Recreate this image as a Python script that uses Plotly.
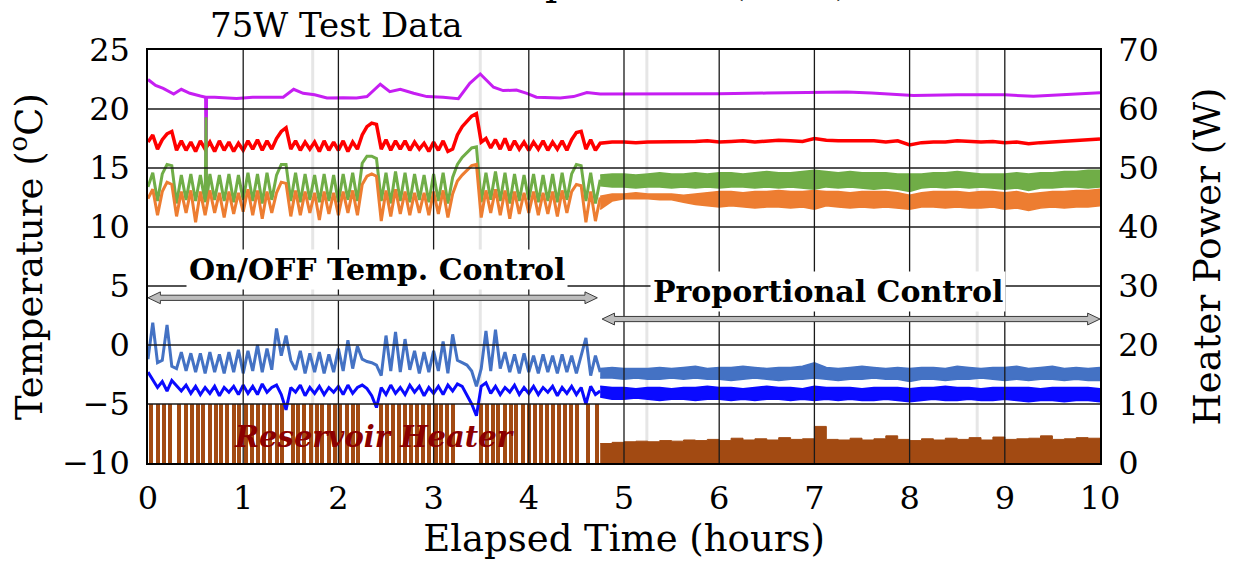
import plotly.graph_objects as go

# ---------------- data ----------------
# on/off control period: samples every 0.05 h from 0 to 4.75 h
t_onoff = [round(0.05 * i, 2) for i in range(96)]
# proportional control period: samples every 0.125 h from 4.75 to 10 h
t_prop = [round(4.75 + 0.125 * k, 3) for k in range(43)]

purple_t = [0.0, 0.08, 0.16, 0.27, 0.35, 0.44, 0.55, 0.605, 0.61, 0.615,
            0.7, 0.93, 1.1, 1.32, 1.42, 1.53, 1.63, 1.75, 1.88, 2.05,
            2.19, 2.30, 2.44, 2.54, 2.65, 2.79, 2.93, 3.10, 3.26, 3.38,
            3.49, 3.63, 3.73, 3.87, 3.98, 4.08, 4.33, 4.47, 4.61, 4.75,
            5.2, 5.6, 6.0, 6.5, 7.0, 7.34, 7.6, 8.04, 8.5, 9.0,
            9.3, 9.6, 10.0]
purple_v = [22.5, 22.0, 21.75, 21.27, 21.67, 21.33, 21.1, 21.0, 12.3, 21.0,
            21.0, 20.9, 21.0, 21.0, 21.0, 21.67, 21.33, 21.2, 20.93, 20.95,
            20.93, 21.05, 22.1, 21.47, 21.67, 21.33, 21.05, 21.0, 20.87, 22.18,
            22.97, 21.84, 21.56, 21.6, 21.33, 21.0, 20.93, 21.05, 21.4, 21.27,
            21.27, 21.3, 21.3, 21.35, 21.4, 21.45, 21.35, 21.15, 21.2, 21.2,
            21.07, 21.2, 21.37]

red_onoff = [17.2, 17.8, 16.6, 17.4, 17.9, 18.1, 16.5, 17.3, 16.5, 17.2,
             16.4, 17.3, 16.6, 17.2, 16.4, 17.3, 16.5, 17.2, 16.4, 17.1,
             16.5, 17.3, 16.6, 17.4, 16.5, 17.3, 16.6, 17.5, 18.1, 18.4,
             16.6, 17.3, 16.5, 17.2, 16.6, 17.2, 16.4, 17.3, 16.5, 17.2,
             16.5, 17.3, 16.4, 17.2, 16.6, 17.8, 18.5, 18.8, 18.7, 16.6,
             17.4, 16.5, 17.3, 16.6, 17.3, 16.5, 17.2, 16.6, 17.1, 16.4,
             17.2, 16.5, 17.3, 16.4, 16.6, 17.8, 18.5, 19.0, 19.4, 19.6,
             17.2, 17.5, 16.7, 17.4, 16.6, 17.5, 16.5, 17.3, 16.6, 17.2,
             16.5, 17.2, 16.6, 17.3, 16.5, 17.2, 16.6, 17.3, 16.5, 17.4,
             18.0, 18.1, 16.6, 17.4, 16.5, 17.1]
red_prop = [17.1, 17.2, 17.2, 17.15, 17.2, 17.2, 17.25, 17.2, 17.25, 17.3,
            17.2, 17.25, 17.3, 17.2, 17.3, 17.35, 17.3, 17.25, 17.5, 17.35,
            17.3, 17.3, 17.25, 17.3, 17.2, 17.3, 16.95, 17.15, 17.2, 17.2,
            17.3, 17.25, 17.2, 17.25, 17.15, 17.2, 17.05, 17.15, 17.2, 17.3,
            17.35, 17.4, 17.45]

green_onoff = [13.4, 14.6, 12.2, 14.5, 15.3, 15.2, 12.0, 14.4, 12.3, 14.5,
               12.2, 14.4, 12.1, 14.5, 12.3, 14.4, 12.2, 14.5, 12.1, 14.4,
               12.3, 14.6, 12.2, 14.5, 12.0, 14.6, 12.3, 14.4, 15.3, 15.3,
               12.2, 14.6, 12.1, 14.5, 12.3, 14.4, 12.1, 14.5, 12.2, 14.4,
               12.1, 14.5, 12.3, 14.6, 12.2, 15.4, 16.0, 16.0, 15.8, 12.2,
               14.6, 12.0, 14.7, 12.2, 14.6, 12.1, 14.5, 12.3, 14.4, 12.1,
               14.5, 12.2, 14.6, 12.0, 14.2, 15.3, 15.9, 16.3, 16.7, 16.8,
               12.1, 14.6, 12.3, 14.7, 12.2, 14.6, 12.0, 14.5, 12.2, 14.4,
               12.3, 14.5, 12.1, 14.4, 12.2, 14.5, 12.1, 14.6, 12.3, 14.5,
               15.3, 15.2, 12.2, 14.6, 12.0, 14.0]
green_glitch_t = [0.61, 0.615]
green_glitch_v = [19.3, 12.2]
green_prop_hi = [14.4, 14.5, 14.5, 14.4, 14.5, 14.6, 14.5, 14.5, 14.6, 14.5,
                 14.6, 14.6, 14.5, 14.6, 14.7, 14.6, 14.6, 14.7, 14.8, 14.7,
                 14.6, 14.7, 14.6, 14.6, 14.6, 14.5, 14.5, 14.5, 14.6, 14.6,
                 14.7, 14.6, 14.5, 14.5, 14.5, 14.6, 14.5, 14.6, 14.6, 14.7,
                 14.7, 14.8, 14.8]
green_prop_lo = [13.5, 13.4, 13.4, 13.3, 13.4, 13.4, 13.3, 13.4, 13.3, 13.4,
                 13.3, 13.4, 13.4, 13.3, 13.4, 13.3, 13.4, 13.3, 13.2, 13.4,
                 13.3, 13.4, 13.3, 13.2, 13.3, 13.2, 13.0, 13.3, 13.4, 13.3,
                 13.4, 13.3, 13.4, 13.3, 13.2, 13.3, 13.1, 13.3, 13.3, 13.4,
                 13.4, 13.3, 13.4]

orange_onoff = [12.4, 13.2, 11.0, 13.0, 13.8, 13.6, 10.9, 13.0, 11.2, 13.1,
                10.4, 13.0, 11.0, 13.1, 11.2, 12.9, 10.8, 13.0, 11.1, 12.9,
                11.3, 13.2, 11.0, 13.1, 10.7, 13.0, 11.2, 12.9, 13.8, 13.7,
                10.9, 13.1, 11.0, 13.0, 11.2, 12.9, 10.6, 13.0, 11.1, 12.9,
                11.0, 13.0, 11.2, 13.1, 11.0, 13.6, 14.3, 14.5, 14.3, 10.5,
                13.1, 10.9, 13.2, 11.1, 13.0, 11.0, 12.9, 11.2, 12.9, 11.0,
                13.0, 11.1, 13.1, 10.8, 12.8, 13.9, 14.4, 14.8, 15.2, 15.3,
                10.8, 13.1, 11.2, 13.2, 11.0, 13.1, 10.7, 13.0, 11.1, 12.9,
                11.2, 13.0, 11.0, 12.9, 11.1, 13.0, 10.9, 13.1, 11.2, 13.0,
                13.6, 13.5, 10.4, 13.0, 10.5, 12.5]
orange_prop_hi = [12.6, 12.8, 12.8, 12.9, 12.8, 12.8, 12.8, 12.7, 12.8, 12.9,
                  13.0, 13.0, 12.9, 13.0, 13.0, 13.1, 13.0, 13.0, 13.1, 13.0,
                  13.0, 12.9, 13.0, 13.0, 13.0, 12.9, 12.7, 12.9, 13.0, 13.0,
                  13.0, 12.9, 13.0, 13.0, 12.9, 13.0, 12.8, 12.9, 13.0, 13.0,
                  13.1, 13.1, 13.2]
orange_prop_lo = [11.5, 12.2, 12.4, 12.4, 12.4, 12.3, 12.3, 12.1, 11.9, 11.8,
                  11.7, 11.8, 11.7, 11.6, 11.7, 11.7, 11.6, 11.7, 11.5, 11.8,
                  11.7, 11.6, 11.7, 11.6, 11.7, 11.6, 11.5, 11.7, 11.7, 11.6,
                  11.7, 11.6, 11.6, 11.7, 11.5, 11.6, 11.4, 11.6, 11.7, 11.6,
                  11.7, 11.7, 11.8]

ltblue_onoff = [-1.2, 1.9, -1.5, -1.3, 1.7, -1.8, -2.0, -0.6, -2.2, -0.7,
                -2.3, -0.7, -2.4, -0.6, -2.3, -0.8, -2.4, -0.6, -2.3, -0.4,
                -2.4, -0.5, -2.2, 0.0, -2.3, -0.3, -2.1, 1.4, -0.9, 0.8,
                -1.3, -2.1, -0.5, -2.4, -0.7, -2.3, -0.6, -2.4, -0.8, -2.3,
                -0.3, -2.2, 0.4, -2.0, -0.1, -1.2, -1.4, -1.5, -1.7, -2.6,
                0.8, -2.2, 1.1, -2.3, 0.5, -2.1, -0.5, -2.4, -0.6, -2.3,
                -0.5, -2.2, 0.3, -2.4, 0.9, -1.3, -1.5, -1.7, -2.2, -3.5,
                -2.0, 1.2, -2.2, 1.3, -2.0, -0.6, -2.3, -0.8, -2.4, -0.7,
                -2.3, -0.9, -2.4, -0.8, -2.3, -0.9, -2.4, -0.8, -2.3, -0.9,
                -2.4, -0.9, 0.6, -2.6, -0.9, -2.3]
ltblue_prop_hi = [-2.0, -1.9, -2.0, -2.0, -2.0, -1.9, -2.0, -1.9, -1.8, -2.0,
                  -1.9, -1.9, -1.8, -1.9, -2.0, -1.9, -1.9, -1.8, -1.5, -1.9,
                  -2.0, -1.9, -1.8, -1.9, -2.0, -1.9, -2.0, -1.9, -1.9, -2.0,
                  -1.8, -1.9, -2.0, -1.9, -1.9, -1.8, -2.0, -1.9, -1.8, -2.0,
                  -1.9, -2.0, -1.9]
ltblue_prop_lo = [-2.8, -2.8, -2.9, -2.8, -2.9, -2.9, -2.8, -2.9, -2.8, -2.9,
                  -2.9, -3.0, -2.9, -2.8, -2.9, -3.0, -2.9, -2.9, -2.8, -2.9,
                  -3.0, -2.9, -2.9, -2.8, -2.9, -2.9, -3.1, -2.9, -2.9, -3.0,
                  -2.9, -2.9, -2.8, -2.9, -3.0, -2.9, -3.0, -2.9, -2.9, -3.0,
                  -2.9, -3.0, -3.0]

blue_onoff = [-2.3, -3.0, -3.6, -3.1, -3.9, -3.0, -3.5, -3.9, -3.4, -4.1,
              -3.5, -4.2, -3.6, -4.1, -3.5, -4.3, -3.6, -4.0, -3.5, -4.2,
              -3.4, -4.1, -3.5, -4.2, -3.3, -4.0, -3.6, -3.4, -4.2, -5.5,
              -3.6, -4.0, -3.4, -4.3, -3.6, -4.1, -3.5, -4.2, -3.6, -4.0,
              -3.5, -4.2, -3.4, -4.1, -3.6, -3.4, -3.7, -4.3, -5.3, -3.6,
              -4.2, -3.4, -4.1, -3.6, -4.2, -3.4, -4.0, -3.5, -4.3, -3.6,
              -4.1, -3.5, -4.2, -3.4, -3.9, -3.3, -3.5, -4.3, -5.0, -6.0,
              -3.5, -3.2, -4.1, -3.5, -4.2, -3.6, -4.0, -3.4, -4.2, -3.6,
              -4.1, -3.5, -4.2, -3.6, -4.0, -3.5, -4.3, -3.6, -4.1, -3.5,
              -4.2, -3.6, -5.0, -3.5, -4.2, -3.9]
blue_prop_hi = [-3.5, -3.6, -3.6, -3.7, -3.6, -3.6, -3.7, -3.6, -3.6, -3.5,
                -3.6, -3.6, -3.7, -3.6, -3.5, -3.6, -3.6, -3.7, -3.5, -3.6,
                -3.6, -3.6, -3.7, -3.6, -3.6, -3.6, -3.7, -3.6, -3.6, -3.5,
                -3.6, -3.6, -3.7, -3.6, -3.6, -3.6, -3.6, -3.7, -3.6, -3.6,
                -3.6, -3.6, -3.7]
blue_prop_lo = [-4.4, -4.6, -4.6, -4.5, -4.6, -4.7, -4.6, -4.6, -4.7, -4.6,
                -4.6, -4.7, -4.6, -4.7, -4.6, -4.6, -4.7, -4.6, -4.7, -4.6,
                -4.7, -4.6, -4.7, -4.7, -4.6, -4.7, -4.8, -4.7, -4.6, -4.7,
                -4.7, -4.6, -4.7, -4.7, -4.6, -4.7, -4.8, -4.7, -4.7, -4.8,
                -4.7, -4.7, -4.8]

# heater: on/off pulses (W) and proportional power (W)
HEATER_ON_W = 10.0
heater_on_t = [0.03, 0.11, 0.17, 0.23, 0.33, 0.40, 0.46, 0.52, 0.58, 0.65, 0.71, 0.77, 0.83, 0.90, 0.96,
               1.03, 1.09, 1.16, 1.22, 1.28, 1.35, 1.41, 1.52, 1.58, 1.64, 1.71, 1.77, 1.83, 1.90, 1.96,
               2.02, 2.09, 2.15, 2.21, 2.45, 2.51, 2.57, 2.64, 2.70, 2.76, 2.83, 2.89, 2.95,
               3.02, 3.08, 3.14, 3.20, 3.50, 3.56, 3.62, 3.68, 3.75, 3.81, 3.87, 3.94,
               4.00, 4.06, 4.13, 4.19, 4.25, 4.32, 4.38, 4.44, 4.51, 4.62, 4.72]
heater_prop = [3.3, 3.5, 3.6, 3.7, 3.6, 3.8, 3.7, 3.9, 3.8, 4.0,
               3.8, 4.2, 3.9, 4.1, 3.9, 4.3, 4.0, 4.1, 6.2, 4.0,
               3.9, 4.2, 3.9, 4.1, 4.6, 4.0, 3.8, 4.1, 3.9, 4.2,
               4.0, 4.3, 3.9, 4.4, 4.0, 4.1, 4.2, 4.6, 4.0, 4.1,
               4.3, 4.2, 4.0]

# ---------------- styling ----------------
FONT = "DejaVu Serif"
C_PURPLE = "#C61EF2"
C_RED = "#FF0000"
C_GREEN = "#70AD47"
C_ORANGE = "#ED7D31"
C_LTBLUE = "#4472C4"
C_BLUE = "#0A0AFF"
C_HEATER = "#A24A12"
LW = 3

fig = go.Figure()

# heater (base axis 'y' on the right)
fig.add_trace(go.Bar(x=heater_on_t, y=[HEATER_ON_W] * len(heater_on_t), width=0.042,
                     marker=dict(color=C_HEATER, line=dict(width=0)), yaxis="y",
                     showlegend=False, hoverinfo="skip"))
fig.add_trace(go.Scatter(x=t_prop, y=heater_prop, mode="lines", yaxis="y",
                         line=dict(color=C_HEATER, width=1, shape="hv"),
                         fill="tozeroy", fillcolor=C_HEATER, showlegend=False))


def band(t, hi, lo, color):
    fig.add_trace(go.Scatter(x=t, y=hi, mode="lines", yaxis="y2",
                             line=dict(color=color, width=1.5), showlegend=False))
    fig.add_trace(go.Scatter(x=t, y=lo, mode="lines", yaxis="y2",
                             line=dict(color=color, width=1.5), fill="tonexty",
                             fillcolor=color, showlegend=False))


def line(t, v, color, w=LW):
    fig.add_trace(go.Scatter(x=t, y=v, mode="lines", yaxis="y2",
                             line=dict(color=color, width=w), showlegend=False))


# blue loops
line(t_onoff, blue_onoff, C_BLUE)
band(t_prop, blue_prop_hi, blue_prop_lo, C_BLUE)
line(t_onoff, ltblue_onoff, C_LTBLUE)
band(t_prop, ltblue_prop_hi, ltblue_prop_lo, C_LTBLUE)

# purple and red
line(purple_t, purple_v, C_PURPLE)
line(t_onoff + t_prop[1:], red_onoff + red_prop[1:], C_RED, 3.5)

# green (with the glitch spike) and orange
g_pairs = sorted(zip(t_onoff + green_glitch_t, green_onoff + green_glitch_v))
line([p[0] for p in g_pairs], [p[1] for p in g_pairs], C_GREEN)
band(t_prop, green_prop_hi, green_prop_lo, C_GREEN)
line(t_onoff, orange_onoff, C_ORANGE)
band(t_prop, orange_prop_hi, orange_prop_lo, C_ORANGE)

# ---------------- shapes: grid drawn above traces, faint lines, arrows ----------------
shapes = []
for xv in [1.73, 3.49, 5.24, 8.71]:
    shapes.append(dict(type="line", xref="x", yref="paper", x0=xv, x1=xv, y0=0, y1=1,
                       line=dict(color="#E6E6E6", width=3), layer="below"))
for xv in range(1, 10):
    shapes.append(dict(type="line", xref="x", yref="paper", x0=xv, x1=xv, y0=0, y1=1,
                       line=dict(color="#1A1A1A", width=1.3), layer="above"))
for yv in range(-5, 25, 5):
    shapes.append(dict(type="line", xref="paper", yref="y2", x0=0, x1=1, y0=yv, y1=yv,
                       line=dict(color="#1A1A1A", width=1.3), layer="above"))


def double_arrow(x0, x1, y, head=0.13, hh=0.5, sh=0.22):
    p = (f"M {x0},{y} L {x0+head},{y+hh} L {x0+head},{y+sh} L {x1-head},{y+sh} "
         f"L {x1-head},{y+hh} L {x1},{y} L {x1-head},{y-hh} L {x1-head},{y-sh} "
         f"L {x0+head},{y-sh} L {x0+head},{y-hh} Z")
    return dict(type="path", xref="x", yref="y2", path=p, fillcolor="#BDBDBD",
                line=dict(color="#3A3A3A", width=1), layer="above")


shapes.append(double_arrow(0.0, 4.72, 4.0))
shapes.append(double_arrow(4.77, 10.0, 2.2))

annotations = [
    dict(text="Temperature (75W)", xref="x", yref="paper", x=3.28, y=1.1065,
         xanchor="left", yanchor="bottom", showarrow=False,
         font=dict(family=FONT, size=39, color="black")),
    dict(text="75W Test Data", xref="x", yref="paper", x=1.985, y=1.0605,
         xanchor="center", yanchor="middle", showarrow=False,
         font=dict(family=FONT, size=34, color="black")),
    dict(text="<b>On/OFF Temp. Control</b>", xref="x", yref="y2", x=2.41, y=6.36,
         showarrow=False, bgcolor="white", borderpad=2,
         font=dict(family=FONT, size=30, color="black")),
    dict(text="<b>Proportional Control</b>", xref="x", yref="y2", x=7.14, y=4.5,
         showarrow=False, bgcolor="white", borderpad=2,
         font=dict(family=FONT, size=30, color="black")),
    dict(text="<b><i>Reservoir Heater</i></b>", xref="x", yref="y2", x=2.38, y=-7.8,
         showarrow=False, font=dict(family=FONT, size=29, color="#8B0000")),
]

tickfont = dict(family=FONT, size=32, color="black")
titlefont = dict(family=FONT, size=37, color="black")

fig.update_layout(
    width=1260, height=563,
    margin=dict(l=148, r=160, t=50, b=100),
    paper_bgcolor="white", plot_bgcolor="white",
    barmode="overlay", bargap=0,
    showlegend=False,
    shapes=shapes, annotations=annotations,
    xaxis=dict(range=[0, 10], tick0=0, dtick=1, showgrid=False, zeroline=False,
               showline=True, linecolor="black", linewidth=1.5, mirror=True,
               ticks="", tickfont=tickfont, ticklabelstandoff=6,
               title=dict(text="Elapsed Time (hours)", font=titlefont, standoff=4)),
    yaxis=dict(range=[0, 70], tick0=0, dtick=10, side="right", showgrid=False,
               zeroline=False, showline=True, linecolor="black", linewidth=1.5,
               ticks="", tickfont=tickfont, ticklabelstandoff=10,
               title=dict(text="Heater Power (W)", font=titlefont, standoff=36)),
    yaxis2=dict(range=[-10, 25], tick0=-10, dtick=5, side="left", overlaying="y",
                showgrid=False, zeroline=False, showline=True, linecolor="black",
                linewidth=1.5, ticks="", tickfont=tickfont, ticklabelstandoff=10,
                title=dict(text="Temperature (<sup>o</sup>C)", font=titlefont, standoff=8)),
)

fig.write_html("out.html")
